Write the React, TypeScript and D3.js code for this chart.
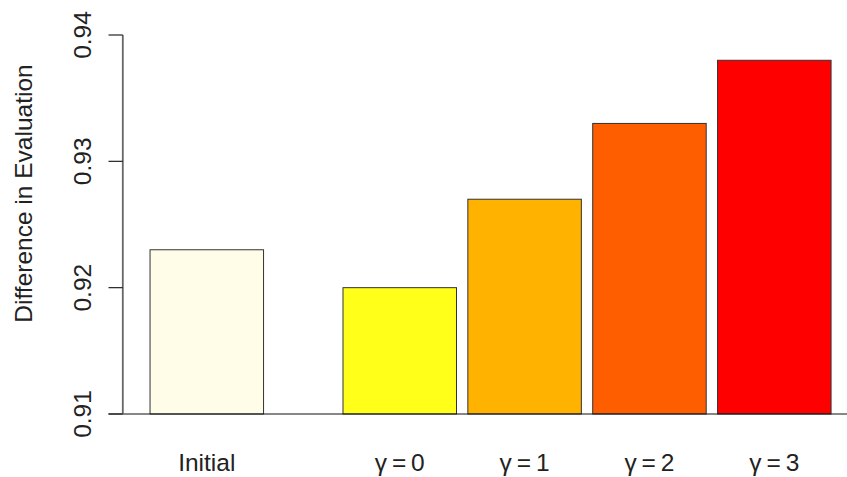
import React from "react";
import * as d3 from "d3";

const categories = ["Initial", "γ\u2009=\u20090", "γ\u2009=\u20091", "γ\u2009=\u20092", "γ\u2009=\u20093"];
const values = [0.923, 0.92, 0.927, 0.933, 0.938];
const spaces = [0.2, 0.7, 0.1, 0.1, 0.1];
const colors = ["#FFFDE8", "#FFFF1A", "#FFB200", "#FF5E00", "#FF0000"];
const yTicks = [0.91, 0.92, 0.93, 0.94];
const yLabel = "Difference in Evaluation";

const W = 847;
const H = 477;
const FONT = "'Liberation Sans', Arial, Helvetica, sans-serif";
const FS = 24.5;

export default function App() {
  const x = d3.scaleLinear().domain([-0.04, 6.44]).range([122.8, 858.3]);
  const y = d3.scaleLinear().domain([0.91, 0.94]).range([414, 35]);

  let cursor = 0;
  const bars = values.map((v, i) => {
    const left = cursor + spaces[i];
    cursor = left + 1;
    return { left, right: left + 1, v, color: colors[i], label: categories[i] };
  });

  const axisX = x(-0.04);
  const tickLen = 14.3;

  return (
    <svg
      width={W}
      height={H}
      style={{ position: "absolute", left: 0, top: 0, background: "#fff" }}
      fontFamily={FONT}
    >
      <rect x={0} y={0} width={W} height={H} fill="#fff" />
      {bars.map((b, i) => (
        <rect
          key={i}
          x={x(b.left)}
          y={y(b.v)}
          width={x(b.right) - x(b.left)}
          height={y(0.91) - y(b.v)}
          fill={b.color}
          stroke="#333"
          strokeWidth={1}
        />
      ))}
      <line x1={axisX - tickLen} x2={W} y1={y(0.91)} y2={y(0.91)} stroke="#111" strokeWidth={1.2} />
      <line x1={axisX} x2={axisX} y1={y(0.91)} y2={y(0.94)} stroke="#666" strokeWidth={1.8} />
      {yTicks.map((t) => (
        <g key={t}>
          <line x1={axisX - tickLen} x2={axisX} y1={y(t)} y2={y(t)} stroke="#222" strokeWidth={1.2} />
          <text
            transform={`translate(91,${y(t)}) rotate(-90)`}
            textAnchor="middle"
            fontSize={FS}
            fill="#222"
          >
            {d3.format(".2f")(t)}
          </text>
        </g>
      ))}
      <text
        transform={`translate(32,193.5) rotate(-90)`}
        textAnchor="middle"
        fontSize={FS}
        fill="#222"
      >
        {yLabel}
      </text>
      {bars.map((b, i) => (
        <text
          key={"l" + i}
          x={(x(b.left) + x(b.right)) / 2}
          y={471}
          textAnchor="middle"
          fontSize={FS}
          fill="#222"
        >
          {b.label}
        </text>
      ))}
    </svg>
  );
}
